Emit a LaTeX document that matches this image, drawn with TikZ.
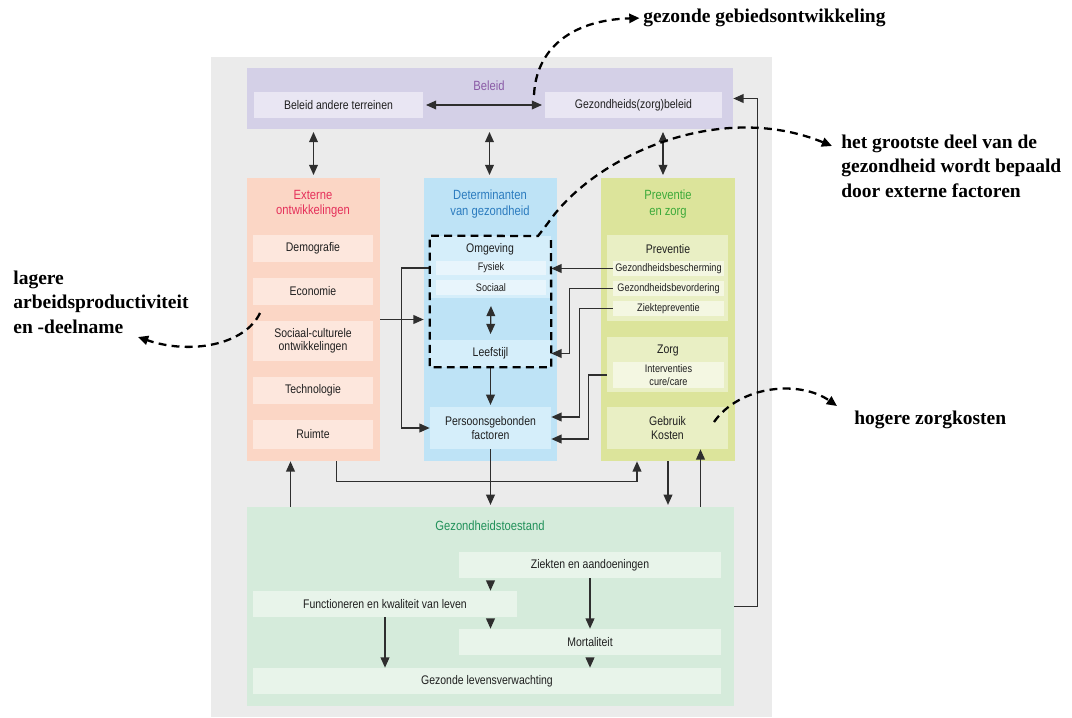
\documentclass[tikz,border=0pt]{standalone}
\usepackage{fontspec}
\setmainfont{Liberation Sans}[FakeStretch=0.84]
\newfontfamily\notefont{Liberation Serif}
\usetikzlibrary{arrows.meta,positioning,fit,calc}

\definecolor{panelgray}{HTML}{EBEBEB}
\definecolor{beleidbg}{HTML}{D4D0E7}
\definecolor{beleidsub}{HTML}{E9E6F3}
\definecolor{beleidtxt}{HTML}{8A5BA6}
\definecolor{extbg}{HTML}{FBD6C5}
\definecolor{extsub}{HTML}{FDE7DD}
\definecolor{exttxt}{HTML}{E5305A}
\definecolor{detbg}{HTML}{BEE3F6}
\definecolor{detsub}{HTML}{D5EEFA}
\definecolor{detsmall}{HTML}{E8F5FC}
\definecolor{dettxt}{HTML}{2C7CBF}
\definecolor{prevbg}{HTML}{DCE49B}
\definecolor{prevsub}{HTML}{E9EFC4}
\definecolor{prevsmall}{HTML}{F4F7E2}
\definecolor{prevtxt}{HTML}{3DAA3A}
\definecolor{gtbg}{HTML}{D5EBDB}
\definecolor{gtsub}{HTML}{E8F4EA}
\definecolor{gttxt}{HTML}{21915A}
\definecolor{linegray}{HTML}{2E2E2E}

\tikzset{
  area/.style={inner sep=0pt, draw=none},
  boxtext/.style={align=center, inner sep=0pt, text=black!88, font=\fontsize{7.1}{7.7}\selectfont},
  smalltext/.style={boxtext, font=\fontsize{6.2}{7}\selectfont},
  head/.style={align=center, font=\fontsize{7.6}{8.6}\selectfont},
  link/.style={->, draw=linegray, line width=0.7pt},
  duo/.style={<->, draw=linegray, line width=0.7pt, shorten >=1.5pt, shorten <=1.5pt},
  note/.style={-{Triangle[length=5.8pt,width=5.2pt]}, dash pattern=on 4.5pt off 3pt, line width=1.3pt},
  notetext/.style={align=left, inner sep=0pt, font=\notefont\bfseries\fontsize{11.1}{14}\selectfont}
}

\begin{document}
\begin{tikzpicture}[x=0.02cm, y=-0.02cm, >={Triangle[length=5.8pt,width=5pt]}]
  \useasboundingbox (0,0) rectangle (1072,717);
  \fill[panelgray] (211,57) rectangle (772,717);

  % beleid
  \node[area, fill=beleidbg, fit={(247,68) (733,129)}] (beleid) {};
  \node[head, text=beleidtxt] (tbeleid) at (489,86) {Beleid};
  \node[area, fill=beleidsub, fit={(254,92) (423,118)}, label={[boxtext]center:Beleid andere terreinen}] (andere) {};
  \node[area, fill=beleidsub, fit={(545,92) (722,118)}, label={[boxtext]center:Gezondheids(zorg)beleid}] (gzbeleid) {};

  % three columns
  \node[area, fill=extbg, fit={(247,178) (380,461)}] (externe) {};
  \node[area, fill=detbg, fit={(424,178) (557,461)}] (det) {};
  \node[area, fill=prevbg, fit={(601,178) (735,461)}] (prev) {};
  \node[head, text=exttxt] (texterne) at (313,204) {Externe\\ontwikkelingen};
  \node[head, text=dettxt] (tdet) at (490,204) {Determinanten\\van gezondheid};
  \node[head, text=prevtxt] (tprev) at (668,204) {Preventie\\en zorg};

  \node[area, fill=extsub, fit={(253,235) (373,262)}, label={[boxtext]center:Demografie}] (demo) {};
  \node[area, fill=extsub, fit={(253,278) (373,305)}, label={[boxtext]center:Economie}] (eco) {};
  \node[area, fill=extsub, fit={(253,321) (373,361)}, label={[boxtext]center:Sociaal-culturele\\ontwikkelingen}] (soc) {};
  \node[area, fill=extsub, fit={(253,377) (373,404)}, label={[boxtext]center:Technologie}] (tech) {};
  \node[area, fill=extsub, fit={(253,420) (373,449)}, label={[boxtext]center:Ruimte}] (ruimte) {};

  \node[area, fill=detsub, fit={(430,236) (551,298)}] (omg) {};
  \node[boxtext] (tomg) at (490,249) {Omgeving};
  \node[area, fill=detsmall, fit={(436,261) (546,275)}, label={[smalltext]center:Fysiek}] (fysiek) {};
  \node[area, fill=detsmall, fit={(436,280) (546,295)}, label={[smalltext]center:Sociaal}] (sociaal) {};
  \node[area, fill=detsub, fit={(430,340) (551,367)}, label={[boxtext]center:Leefstijl}] (leefstijl) {};
  \node[area, fill=detsub, fit={(430,407) (551,449)}, label={[boxtext]center:Persoonsgebonden\\factoren}] (persoon) {};

  \node[area, fill=prevsub, fit={(607,235) (728,321)}] (prevpanel) {};
  \node[boxtext] (tprevpanel) at (668,249) {Preventie};
  \node[area, fill=prevsmall, fit={(613,261) (724,276)}, label={[smalltext]center:Gezondheidsbescherming}] (bescherm) {};
  \node[area, fill=prevsmall, fit={(613,281) (724,296)}, label={[smalltext]center:Gezondheidsbevordering}] (bevorder) {};
  \node[area, fill=prevsmall, fit={(613,301) (724,316)}, label={[smalltext]center:Ziektepreventie}] (ziektepr) {};
  \node[area, fill=prevsub, fit={(607,337) (728,392)}] (zorg) {};
  \node[boxtext] (tzorg) at (668,350) {Zorg};
  \node[area, fill=prevsmall, fit={(613,362) (724,388)}, label={[smalltext]center:Interventies\\cure/care}] (interv) {};
  \node[area, fill=prevsub, fit={(607,407) (728,449)}, label={[boxtext]center:Gebruik\\Kosten}] (gebruik) {};

  % gezondheidstoestand
  \node[area, fill=gtbg, fit={(247,507) (734,706)}] (gt) {};
  \node[head, text=gttxt] (tgt) at (490,526) {Gezondheidstoestand};
  \node[area, fill=gtsub, fit={(459,552) (721,578)}, label={[boxtext]center:Ziekten en aandoeningen}] (ziekten) {};
  \node[area, fill=gtsub, fit={(253,591) (517,617)}, label={[boxtext]center:Functioneren en kwaliteit van leven}] (funct) {};
  \node[area, fill=gtsub, fit={(459,629) (721,655)}, label={[boxtext]center:Mortaliteit}] (mort) {};
  \node[area, fill=gtsub, fit={(253,668) (721,694)}, label={[boxtext]center:Gezonde levensverwachting}] (gezlv) {};

  % connectors
  \draw[duo] (andere) -- (gzbeleid);
  \draw[duo] (beleid.south -| externe.north) -- (externe.north);
  \draw[duo] ($(beleid.south -| det.north)+(-1,0)$) -- ($(det.north)+(-1,0)$);
  \draw[duo] ($(beleid.south -| prev.north)+(-5,0)$) -- ($(prev.north)+(-5,0)$);
  \draw[duo] ($(sociaal.south)+(0,8)$) -- ($(leefstijl.north)+(0,-3)$);

  \draw[link] (externe.east) -- (det.west);
  \draw[link] (bescherm.west) -- (omg.east |- bescherm.west);
  \draw[link] (bevorder.west) -- ++(-43,0) |- (leefstijl.east);
  \draw[link] (ziektepr.west) -- ++(-33,0) |- ($(persoon.east)+(0,-11)$);
  \draw[link] (zorg.west |- interv.west) -- ++(-18,0) |- ($(persoon.east)+(0,11)$);
  \draw[link] (omg.west |- fysiek.west) -- ++(-28,0) |- (persoon.west);
  \draw[link, shorten >=1pt] (leefstijl.south) -- (persoon.north);
  \draw[link, shorten >=1pt] (persoon.south) -- (persoon.south |- gt.north);
  \draw[link] ($(externe.south)+(23,0)$) -- ++(0,20) -| ($(prev.south)+(-31,0)$);
  \draw[link, shorten >=1pt] (prev.south) -- (prev.south |- gt.north);
  \coordinate (upgebruik) at ($(gebruik.south)+(33,0)$);
  \draw[link] (gt.north -| upgebruik) -- (upgebruik);
  \coordinate (upexterne) at ($(externe.south)+(-23,0)$);
  \draw[link] (gt.north -| upexterne) -- (upexterne);
  \draw[link] (gt.east) -- ++(23,0) |- (beleid.east);

  \draw[link, shorten <=3pt] (ziekten.south -| gt.north) -- (funct.north -| gt.north);
  \draw[link, shorten <=3pt] (funct.south -| gt.north) -- (mort.north -| gt.north);
  \draw[link] (ziekten.south) -- (mort.north);
  \draw[link] (funct.south) -- (gezlv.north -| funct.south);
  \draw[link, shorten <=3pt] (mort.south) -- (gezlv.north -| mort.south);

  % dashed box and notes
  \draw[note] (551,240) -- (leefstijl.south east) -- (leefstijl.south west) -- (omg.north west)
    -- (538,236) -- (548,223) .. controls (595,155) and (720,100) .. (832,146);

  \node[notetext, anchor=west] (gebied) at (643,18) {gezonde gebiedsontwikkeling};
  \node[notetext, anchor=west] (grootste) at (841,166) {het grootste deel van de\\gezondheid wordt bepaald\\door externe factoren};
  \node[notetext, anchor=west] (lagere) at (13,302) {lagere\\arbeidsproductiviteit\\en -deelname};
  \node[notetext, anchor=west] (hogere) at (854,420) {hogere zorgkosten};

  \coordinate (fromgebied) at (534,95);
  \coordinate (fromlagere) at (260,313);
  \coordinate (tolagere) at (138,337);
  \coordinate (fromhogere) at (714,422);
  \coordinate (tohogere) at (837,406);
  \draw[note, shorten >=2pt] (fromgebied) .. controls (536,50) and (570,20) .. (gebied.west);
  \draw[note] (fromlagere) .. controls (245,345) and (190,355) .. (tolagere);
  \draw[note] (fromhogere) .. controls (740,385) and (800,380) .. (tohogere);
\end{tikzpicture}
\end{document}
